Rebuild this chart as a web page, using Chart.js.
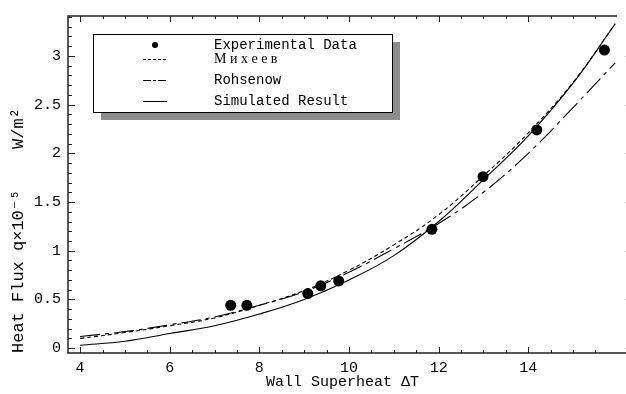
<!DOCTYPE html>
<html>
<head>
<meta charset="utf-8">
<script src="https://cdn.jsdelivr.net/npm/chart.js@4/dist/chart.umd.min.js"></script>
<style>
  html, body { margin: 0; padding: 0; background: #fff; }
  #wrap { width: 626px; height: 394px; }
</style>
</head>
<body>
<div id="wrap"><canvas id="chart" width="626" height="394"></canvas></div>
<script>
// Measured points
const expDeltaT = [7.36, 7.72, 9.08, 9.37, 9.77, 11.85, 12.99, 14.19, 15.70];
const expFlux   = [0.44, 0.44, 0.56, 0.64, 0.69, 1.22, 1.76, 2.24, 3.06];

// Model curves
const curveDeltaT = [4, 5, 6, 7, 8, 9, 10, 11, 12, 13, 14, 15, 15.94];
const mikheevFlux   = [0.10, 0.16, 0.23, 0.31, 0.44, 0.59, 0.80, 1.06, 1.37, 1.77, 2.21, 2.73, 3.33];
const rohsenowFlux  = [0.12, 0.17, 0.24, 0.32, 0.44, 0.58, 0.78, 1.02, 1.28, 1.60, 2.00, 2.47, 2.93];
const simulatedFlux = [0.03, 0.07, 0.15, 0.23, 0.35, 0.50, 0.70, 0.95, 1.30, 1.73, 2.18, 2.72, 3.33];

const seriesNames = ['Experimental Data', 'М и х е е в', 'Rohsenow', 'Simulated Result'];

const xRange = [3.73, 15.98];
const yRange = [-0.05, 3.41];

const monoFont = "'Liberation Mono', 'DejaVu Sans Mono', monospace";

function toPoints(xs, ys) {
    return xs.map((x, i) => ({ x: x, y: ys[i] }));
}

function isStep(v, step) {
    const r = v / step;
    return Math.abs(r - Math.round(r)) < 1e-6;
}

// inward ticks on the frame, faint ones on the open right side
const frameTicks = {
    id: 'frameTicks',
    afterDatasetsDraw(chart) {
        const { ctx, chartArea: a, scales } = chart;
        ctx.save();
        ctx.lineWidth = 1;
        scales.x.ticks.forEach(t => {
            if (!isStep(t.value, 0.5)) return;
            const px = Math.round(scales.x.getPixelForValue(t.value)) + 0.5;
            const len = isStep(t.value, 2) ? 6 : 3;
            ctx.strokeStyle = '#222';
            ctx.beginPath();
            ctx.moveTo(px, a.bottom); ctx.lineTo(px, a.bottom - len);
            ctx.moveTo(px, a.top); ctx.lineTo(px, a.top + len);
            ctx.stroke();
        });
        scales.y.ticks.forEach(t => {
            const py = Math.round(scales.y.getPixelForValue(t.value)) + 0.5;
            const len = isStep(t.value, 0.5) ? 7 : 4;
            ctx.strokeStyle = '#222';
            ctx.beginPath();
            ctx.moveTo(a.left, py); ctx.lineTo(a.left + len, py);
            ctx.stroke();
            if (isStep(t.value, 0.5)) {
                ctx.strokeStyle = '#ddd';
                ctx.beginPath();
                ctx.moveTo(a.right + 7, py); ctx.lineTo(a.right + 9, py);
                ctx.stroke();
            }
        });
        ctx.strokeStyle = '#222';
        ctx.lineWidth = 1.5;
        ctx.beginPath();
        ctx.moveTo(a.right, a.top); ctx.lineTo(a.left, a.top);
        ctx.lineTo(a.left, a.bottom); ctx.lineTo(a.right + 9, a.bottom);
        ctx.stroke();
        ctx.restore();
    }
};

// framed legend with a drop shadow
const legendDash = [null, [3, 2], [8, 2, 3, 2], []];
const boxLegend = {
    id: 'boxLegend',
    afterDraw(chart) {
        const ctx = chart.ctx;
        const bx = 93, by = 34, bw = 299, bh = 78;
        ctx.save();
        ctx.fillStyle = '#8c8c8c';
        ctx.fillRect(bx + 8, by + 8, bw, bh);
        ctx.fillStyle = '#fff';
        ctx.fillRect(bx, by, bw, bh);
        ctx.strokeStyle = '#000';
        ctx.lineWidth = 1;
        ctx.strokeRect(bx + 0.5, by + 0.5, bw, bh);

        const rows = [45, 59, 80, 101];
        chart.data.datasets.forEach((ds, i) => {
            const y = rows[i];
            ctx.strokeStyle = '#000';
            ctx.fillStyle = '#000';
            if (ds.showLine === false) {
                ctx.beginPath();
                ctx.arc(155, y, 3, 0, Math.PI * 2);
                ctx.fill();
            } else {
                ctx.lineWidth = 1;
                ctx.setLineDash(legendDash[i]);
                ctx.beginPath();
                ctx.moveTo(143, y + 0.5); ctx.lineTo(167, y + 0.5);
                ctx.stroke();
                ctx.setLineDash([]);
            }
            ctx.font = i === 1 ? "14px 'Liberation Serif', serif" : '14px ' + monoFont;
            ctx.textBaseline = 'middle';
            ctx.textAlign = 'left';
            ctx.fillText(ds.label, 214, y);
        });
        ctx.restore();
    }
};

const chart = new Chart(document.getElementById('chart'), {
    type: 'scatter',
    data: {
        datasets: [
            {
                label: seriesNames[0],
                data: toPoints(expDeltaT, expFlux),
                showLine: false,
                pointRadius: 5.5,
                pointBackgroundColor: '#000',
                pointBorderColor: '#000',
                pointBorderWidth: 0
            },
            {
                label: seriesNames[1],
                data: toPoints(curveDeltaT, mikheevFlux),
                showLine: true,
                borderColor: '#000',
                borderWidth: 1.1,
                borderDash: [4, 3],
                pointRadius: 0,
                tension: 0.4
            },
            {
                label: seriesNames[2],
                data: toPoints(curveDeltaT, rohsenowFlux),
                showLine: true,
                borderColor: '#000',
                borderWidth: 1.1,
                borderDash: [20, 5, 4, 5],
                pointRadius: 0,
                tension: 0.4
            },
            {
                label: seriesNames[3],
                data: toPoints(curveDeltaT, simulatedFlux),
                showLine: true,
                borderColor: '#000',
                borderWidth: 1.1,
                pointRadius: 0,
                tension: 0.4
            }
        ]
    },
    options: {
        responsive: false,
        animation: false,
        devicePixelRatio: 1,
        layout: { padding: { top: 7, right: 9, left: 0, bottom: 0 } },
        plugins: {
            legend: { display: false },
            tooltip: { enabled: false }
        },
        scales: {
            x: {
                type: 'linear',
                min: xRange[0],
                max: xRange[1],
                border: { display: false },
                grid: { display: false, drawTicks: false },
                afterFit(scale) { scale.height = 41; },
                ticks: {
                    stepSize: 0.5,
                    maxTicksLimit: 100,
                    includeBounds: false,
                    autoSkip: false,
                    maxRotation: 0,
                    padding: 6,
                    color: '#000',
                    font: { family: monoFont, size: 15 },
                    callback: v => isStep(v, 2) ? String(v) : ''
                },
                title: {
                    display: true,
                    text: 'Wall Superheat ΔT',
                    color: '#000',
                    font: { family: monoFont, size: 15 },
                    padding: { top: 0, bottom: 3 }
                }
            },
            y: {
                type: 'linear',
                min: yRange[0],
                max: yRange[1],
                border: { display: false },
                grid: { display: false, drawTicks: false },
                afterFit(scale) { scale.width = 68; },
                ticks: {
                    stepSize: 0.1,
                    maxTicksLimit: 100,
                    includeBounds: false,
                    autoSkip: false,
                    padding: 7,
                    color: '#000',
                    font: { family: monoFont, size: 15 },
                    callback: v => isStep(v, 0.5) ? String(Math.round(v * 10) / 10) : ''
                },
                title: {
                    display: true,
                    text: 'Heat Flux q×10⁻⁵    W/m²',
                    align: 'start',
                    color: '#000',
                    font: { family: monoFont, size: 17 },
                    padding: { top: 8, bottom: 0 }
                }
            }
        }
    },
    plugins: [frameTicks, boxLegend]
});
</script>
</body>
</html>
